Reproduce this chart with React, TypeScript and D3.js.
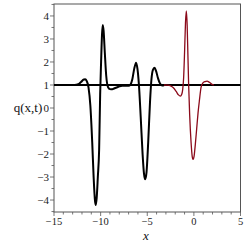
import React from "react";
import * as d3 from "d3";

const blackX = [-13.6, -12.8, -12.4, -12.1, -11.8, -11.65, -11.5, -11.3, -11.1, -10.9, -10.75, -10.6, -10.52, -10.42, -10.3, -10.16, -10.05, -9.95, -9.85, -9.77, -9.68, -9.55, -9.4, -9.2, -9.0, -8.75, -8.5, -8.1, -7.7, -7.3, -7.0, -6.8, -6.6, -6.4, -6.2, -6.05, -5.9, -5.7, -5.5, -5.35, -5.22, -5.08, -4.9, -4.7, -4.55, -4.4, -4.22, -4.05, -3.85, -3.65, -3.4, -3.2];
const blackY = [1.0, 1.0, 1.03, 1.13, 1.24, 1.25, 1.18, 0.9, 0.1, -1.5, -3.0, -4.05, -4.22, -3.9, -3.0, -1.8, 0.6, 2.0, 3.2, 3.61, 3.35, 2.4, 1.4, 0.9, 0.82, 0.81, 0.86, 0.92, 0.97, 0.97, 0.97, 1.02, 1.25, 1.7, 1.97, 1.7, 1.05, -0.4, -2.0, -2.85, -3.1, -2.8, -1.5, 0.3, 1.25, 1.65, 1.75, 1.6, 1.3, 1.08, 0.98, 0.99];

const redX = [-3.2, -2.8, -2.5, -2.2, -1.9, -1.65, -1.45, -1.3, -1.2, -1.1, -1.0, -0.9, -0.81, -0.72, -0.64, -0.56, -0.45, -0.3, -0.18, -0.09, 0.02, 0.15, 0.3, 0.45, 0.6, 0.77, 0.95, 1.2, 1.42, 1.65, 1.9, 2.15];
const redY = [1.0, 0.99, 0.96, 0.88, 0.72, 0.57, 0.52, 0.6, 0.8, 1.3, 2.4, 3.7, 4.22, 3.6, 2.3, 1.0, -0.3, -1.5, -2.1, -2.23, -2.1, -1.6, -0.9, -0.2, 0.35, 0.9, 1.08, 1.15, 1.17, 1.12, 1.04, 1.0];

const xTicks = [-15, -10, -5, 0, 5];
const yTicks = [-4, -3, -2, -1, 0, 1, 2, 3, 4];
const baseline = 1;

const fmt = (v: number) => (v < 0 ? "\u2212" + Math.abs(v) : String(v));

export default function App() {
  const left = 54, right = 240.5, top = 4, bottom = 212;
  const x = d3.scaleLinear().domain([-15, 5]).range([left, right]);
  const y = d3.scaleLinear().domain([-4.52, 4.52]).range([bottom, top]);
  const line = d3
    .line<[number, number]>()
    .x((d) => x(d[0]))
    .y((d) => y(d[1]))
    .curve(d3.curveMonotoneX);
  const black: [number, number][] = blackX.map((v, i) => [v, blackY[i]]);
  const red: [number, number][] = redX.map((v, i) => [v, redY[i]]);
  const xMinor = d3.range(-15, 5.01, 1);
  const yMinor = d3.range(-4.5, 4.51, 0.5);
  const font = "'Liberation Serif', 'DejaVu Serif', serif";
  return (
    <svg
      width={245}
      height={245}
      style={{ position: "absolute", left: 0, top: 0, background: "#fff" }}
    >
      <rect x={left} y={top} width={right - left} height={bottom - top} fill="none" stroke="#555" strokeWidth={1} />
      {xMinor.map((t) => (
        <line key={"xm" + t} x1={x(t)} x2={x(t)} y1={bottom} y2={bottom + (xTicks.includes(t) ? 4 : 2.5)} stroke="#555" strokeWidth={0.8} />
      ))}
      {yMinor.map((t) => (
        <line key={"ym" + t} x1={left} x2={left - (yTicks.includes(t) ? 4 : 2.5)} y1={y(t)} y2={y(t)} stroke="#555" strokeWidth={0.8} />
      ))}
      {xTicks.map((t) => (
        <text key={"xt" + t} x={x(t)} y={225} fontSize={10.5} fontFamily={font} textAnchor="middle" fill="#222">
          {fmt(t)}
        </text>
      ))}
      {yTicks.map((t) => (
        <text key={"yt" + t} x={49} y={y(t) + 3.8} fontSize={11} fontFamily={font} textAnchor="end" fill="#222">
          {fmt(t)}
        </text>
      ))}
      <line x1={left} x2={right} y1={y(baseline)} y2={y(baseline)} stroke="#000" strokeWidth={2} />
      <path d={line(black) || ""} fill="none" stroke="#000" strokeWidth={2} strokeLinejoin="round" />
      <path d={line(red) || ""} fill="none" stroke="#8b0a1a" strokeWidth={1.3} strokeLinejoin="round" />
      <text x={28} y={112} fontSize={13} fontFamily={font} textAnchor="middle" fill="#111">
        q(x,t)
      </text>
      <text x={146} y={240} fontSize={13} fontFamily={font} fontStyle="italic" textAnchor="middle" fill="#111">
        x
      </text>
    </svg>
  );
}
